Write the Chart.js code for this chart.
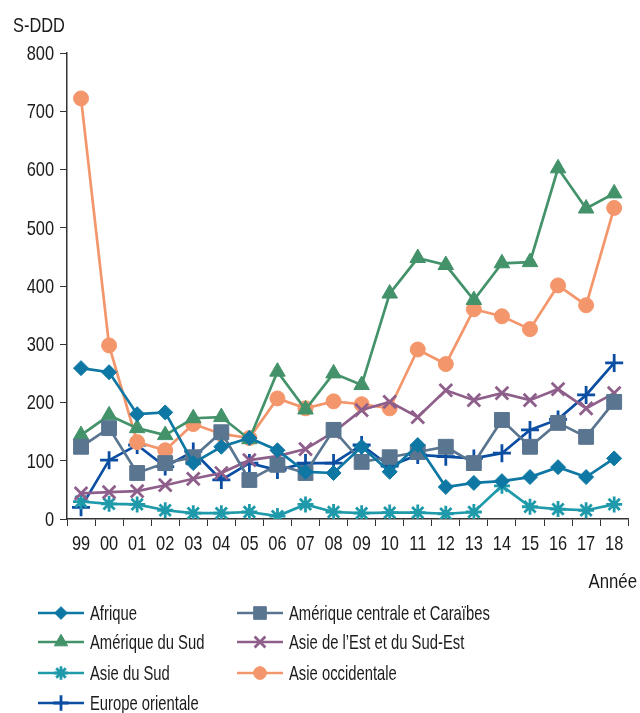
<!DOCTYPE html>
<html>
<head>
<meta charset="utf-8">
<script src="https://cdn.jsdelivr.net/npm/chart.js@4"></script>
<style>
  html, body { margin: 0; padding: 0; background: #fff; }
  #wrap { position: relative; width: 640px; height: 713px; }
</style>
</head>
<body>
<div id="wrap"><canvas id="chart" width="640" height="713"></canvas></div>
<script>
// Data
const years = ['99', '00', '01', '02', '03', '04', '05', '06', '07', '08', '09', '10', '11', '12', '13', '14', '15', '16', '17', '18'];
const yTicks = [0, 100, 200, 300, 400, 500, 600, 700, 800];

const afrique = [259, 252, 180, 183, 96, 124, 139, 118, 81, 79, 124, 81, 127, 55, 62, 65, 72, 89, 72, 104];
const ameriqueCentrale = [124, 156, 79, 96, 106, 149, 67, 93, 79, 153, 98, 106, 115, 124, 96, 170, 124, 165, 141, 201];
const ameriqueSud = [144, 178, 156, 144, 173, 175, 137, 253, 188, 250, 230, 387, 448, 436, 376, 439, 441, 602, 533, 559];
const asieEst = [44, 46, 48, 58, 69, 79, 101, 108, 120, 149, 187, 201, 175, 221, 204, 216, 204, 223, 190, 216];
const asieSud = [30, 26, 25, 15, 10, 10, 12, 5, 25, 12, 10, 11, 11, 9, 12, 57, 21, 17, 15, 25];
const asieOccidentale = [722, 298, 132, 118, 163, 146, 139, 207, 190, 202, 197, 190, 291, 266, 360, 348, 326, 401, 367, 534];
const europeOrientale = [20, 101, 127, 90, 116, 67, 96, 84, 96, 96, 127, 91, 110, 107, 104, 113, 153, 171, 213, 268];

const FONT = '"Liberation Sans", Arial, sans-serif';
const TEXT = '#1c1a1b';

function series(label, data, color, style, radius, col, row) {
    return {
        label: label,
        data: data,
        borderColor: color,
        backgroundColor: color,
        borderWidth: 2.7,
        pointStyle: style,
        pointRadius: radius,
        pointBorderWidth: (style === 'crossRot' || style === 'cross' || style === 'star') ? 2.8 : 1,
        tension: 0,
        legendCol: col,
        legendRow: row
    };
}

const datasets = [
    series('Afrique', afrique, '#0e77a3', 'rectRot', 7.5, 0, 0),
    series('Amérique centrale et Caraïbes', ameriqueCentrale, '#5a7590', 'rect', 10.5, 1, 0),
    series('Amérique du Sud', ameriqueSud, '#43926a', 'triangle', 9, 0, 1),
    series('Asie de l\u2019Est et du Sud-Est', asieEst, '#8f5f8c', 'crossRot', 9, 1, 1),
    series('Asie du Sud', asieSud, '#1f9aaa', 'star', 8, 0, 2),
    series('Asie occidentale', asieOccidentale, '#f4966b', 'circle', 7.5, 1, 2),
    series('Europe orientale', europeOrientale, '#0b4ea2', 'cross', 9, 0, 3)
];

// condensed text: the reference uses a narrow face, so squeeze a normal one
function narrowText(ctx, text, x, y, align, sx) {
    ctx.save();
    ctx.translate(x, y);
    ctx.scale(sx, 1);
    ctx.textAlign = align;
    ctx.textBaseline = 'middle';
    ctx.fillText(text, 0, 0);
    ctx.restore();
}

// Tick labels, titles and legend drawn on the canvas
const extrasPlugin = {
    id: 'extras',
    afterDraw(chart) {
        const ctx = chart.ctx;
        const xs = chart.scales.x;
        const ys = chart.scales.y;
        ctx.save();
        ctx.fillStyle = TEXT;
        ctx.font = '21px ' + FONT;

        yTicks.forEach(v => narrowText(ctx, String(v), 54, ys.getPixelForValue(v) + 1, 'right', 0.78));
        years.forEach((lab, i) => narrowText(ctx, lab, xs.getPixelForValue(i), 544, 'center', 0.78));

        narrowText(ctx, 'S-DDD', 13, 26, 'left', 0.78);
        narrowText(ctx, 'Année', 637, 582, 'right', 0.8);

        // legend
        const colX = [38, 237];
        const rowY = [613, 642, 673, 703];
        chart.data.datasets.forEach(ds => {
            const x0 = colX[ds.legendCol];
            const y = rowY[ds.legendRow];
            ctx.strokeStyle = ds.borderColor;
            ctx.lineWidth = 2.7;
            ctx.beginPath();
            ctx.moveTo(x0, y);
            ctx.lineTo(x0 + 46, y);
            ctx.stroke();
            ctx.fillStyle = ds.backgroundColor;
            ctx.lineWidth = ds.pointBorderWidth;
            Chart.helpers.drawPoint(ctx, {
                pointStyle: ds.pointStyle,
                radius: ds.pointRadius * 0.85,
                rotation: 0,
                borderWidth: ds.pointBorderWidth
            }, x0 + 23, y);
            ctx.fillStyle = TEXT;
            narrowText(ctx, ds.label, x0 + 52, y + 1, 'left', 0.705);
        });
        ctx.restore();
    }
};

new Chart(document.getElementById('chart'), {
    type: 'line',
    data: { labels: years, datasets: datasets },
    options: {
        responsive: false,
        animation: false,
        layout: { padding: { left: 0, top: 53, right: 2, bottom: 154 } },
        plugins: { legend: { display: false }, tooltip: { enabled: false } },
        scales: {
            x: {
                offset: true,
                grid: { drawOnChartArea: false, drawTicks: true, tickLength: 7, color: '#333', offset: true },
                border: { display: true, color: '#333', width: 1.5 },
                ticks: { display: false, autoSkip: false },
                afterFit(scale) { scale.height = 40; }
            },
            y: {
                min: 0,
                max: 800,
                afterBuildTicks(scale) { scale.ticks = yTicks.map(v => ({ value: v })); },
                grid: { drawOnChartArea: false, drawTicks: true, tickLength: 7, color: '#333' },
                border: { display: true, color: '#333', width: 1.5 },
                ticks: { display: false },
                afterFit(scale) { scale.width = 67; }
            }
        }
    },
    plugins: [extrasPlugin]
});
</script>
</body>
</html>
